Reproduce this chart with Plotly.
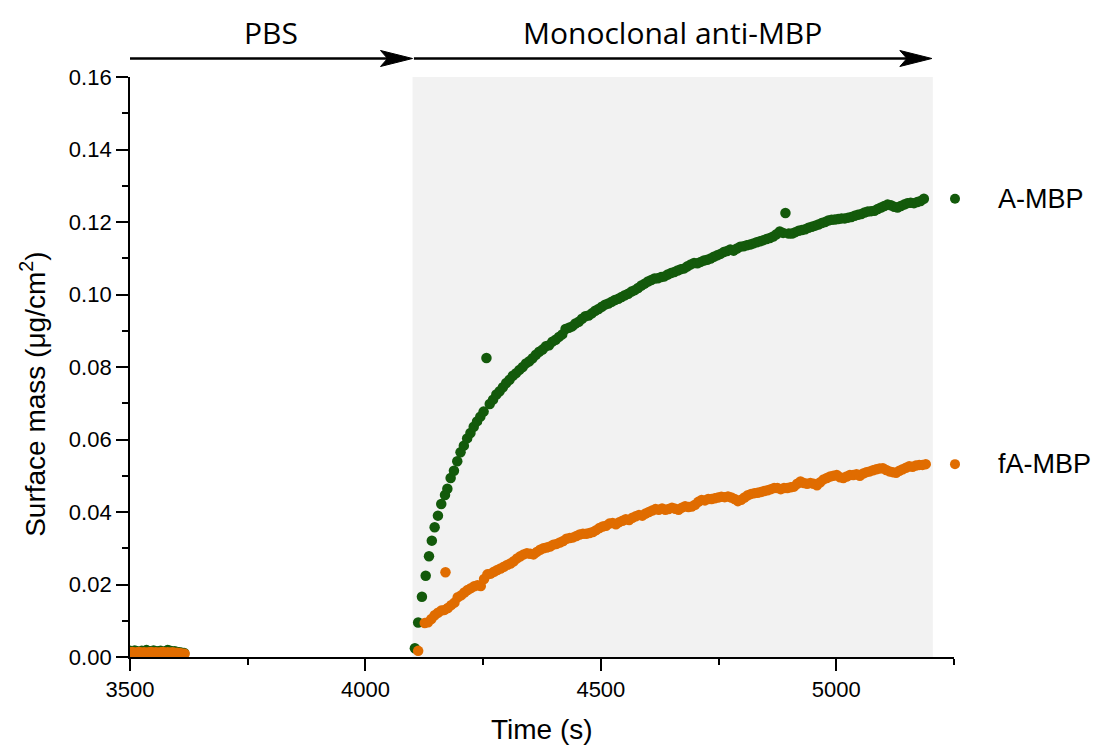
import plotly.graph_objects as go

# ---------------- data ----------------
# A-MBP (green)
a_time = [3500, 3505, 3510, 3515, 3520, 3525, 3530, 3535, 3540, 3545, 3550, 3555,
          3560, 3565, 3570, 3575, 3580, 3585, 3590, 3595, 3600, 3605, 3610, 3615,
          4105, 4112, 4120, 4128, 4135, 4141, 4147, 4154, 4161, 4169, 4174, 4181,
          4188, 4195, 4202, 4209, 4216, 4223, 4230, 4237, 4244, 4251, 4257, 4264,
          4271, 4278, 4285, 4292, 4299, 4306, 4313, 4320, 4327, 4334, 4341, 4348,
          4355, 4362, 4369, 4376, 4383, 4390, 4397, 4404, 4411, 4418, 4425, 4432,
          4439, 4446, 4453, 4460, 4467, 4474, 4481, 4488, 4495, 4502, 4509, 4516,
          4523, 4530, 4537, 4544, 4551, 4558, 4565, 4572, 4579, 4586, 4593, 4600,
          4607, 4614, 4621, 4628, 4635, 4642, 4649, 4656, 4663, 4670, 4677, 4684,
          4691, 4698, 4705, 4712, 4719, 4726, 4733, 4740, 4747, 4754, 4761, 4768,
          4775, 4782, 4789, 4796, 4803, 4810, 4817, 4824, 4831, 4838, 4845, 4852,
          4859, 4866, 4873, 4880, 4887, 4892, 4899, 4906, 4913, 4920, 4927, 4934,
          4941, 4948, 4955, 4962, 4969, 4976, 4983, 4990, 4997, 5004, 5011, 5018,
          5025, 5032, 5039, 5046, 5053, 5060, 5067, 5074, 5081, 5088, 5095, 5102,
          5109, 5116, 5123, 5130, 5137, 5144, 5151, 5158, 5165, 5172, 5179, 5186]
a_mass = [0.0017, 0.0015, 0.0018, 0.0016, 0.0014, 0.0017, 0.0016, 0.0019, 0.0015, 0.0016, 0.0018, 0.0015,
          0.0016, 0.0017, 0.0014, 0.0016, 0.0019, 0.0017, 0.0015, 0.0016, 0.0014, 0.0013, 0.0012, 0.0011,
          0.0024, 0.0095, 0.0166, 0.0224, 0.0278, 0.0321, 0.0358, 0.0390, 0.0422, 0.0447, 0.0464, 0.0494,
          0.0514, 0.0540, 0.0565, 0.0583, 0.0603, 0.0618, 0.0635, 0.0650, 0.0663, 0.0677, 0.0825, 0.0698,
          0.0710, 0.0724, 0.0733, 0.0744, 0.0756, 0.0765, 0.0776, 0.0783, 0.0792, 0.0800, 0.0810, 0.0816,
          0.0824, 0.0834, 0.0842, 0.0848, 0.0857, 0.0860, 0.0870, 0.0875, 0.0883, 0.0890, 0.0905, 0.0908,
          0.0912, 0.0920, 0.0925, 0.0933, 0.0940, 0.0942, 0.0948, 0.0955, 0.0960, 0.0966, 0.0972, 0.0975,
          0.0980, 0.0985, 0.0988, 0.0993, 0.0998, 0.1002, 0.1008, 0.1012, 0.1018, 0.1025, 0.1030, 0.1036,
          0.1040, 0.1044, 0.1045, 0.1048, 0.1050, 0.1055, 0.1059, 0.1062, 0.1066, 0.1070, 0.1072, 0.1078,
          0.1083, 0.1087, 0.1086, 0.1090, 0.1094, 0.1096, 0.1099, 0.1104, 0.1108, 0.1112, 0.1117, 0.1120,
          0.1124, 0.1121, 0.1127, 0.1132, 0.1133, 0.1136, 0.1138, 0.1141, 0.1144, 0.1147, 0.1150, 0.1153,
          0.1156, 0.1160, 0.1166, 0.1174, 0.1170, 0.1225, 0.1168, 0.1168, 0.1172, 0.1176, 0.1178, 0.1180,
          0.1184, 0.1187, 0.1190, 0.1193, 0.1197, 0.1200, 0.1204, 0.1206, 0.1207, 0.1208, 0.1210, 0.1210,
          0.1212, 0.1214, 0.1217, 0.1220, 0.1222, 0.1226, 0.1229, 0.1230, 0.1231, 0.1236, 0.1240, 0.1244,
          0.1248, 0.1246, 0.1242, 0.1240, 0.1244, 0.1248, 0.1252, 0.1253, 0.1252, 0.1255, 0.1258, 0.1264]

# fA-MBP (orange)
f_time = [3500, 3505, 3510, 3515, 3520, 3525, 3530, 3535, 3540, 3545, 3550, 3555,
          3560, 3565, 3570, 3575, 3580, 3585, 3590, 3595, 3600, 3605, 3610, 3616,
          4112, 4126, 4133, 4140, 4147, 4154, 4161, 4168, 4170, 4175, 4182, 4189,
          4196, 4203, 4210, 4217, 4224, 4231, 4238, 4245, 4252, 4259, 4266, 4273,
          4280, 4287, 4294, 4301, 4308, 4315, 4322, 4329, 4336, 4343, 4350, 4357,
          4364, 4371, 4378, 4385, 4392, 4399, 4406, 4413, 4420, 4427, 4434, 4441,
          4448, 4455, 4462, 4469, 4476, 4483, 4490, 4497, 4504, 4511, 4518, 4525,
          4532, 4539, 4546, 4553, 4560, 4567, 4574, 4581, 4588, 4595, 4602, 4609,
          4616, 4623, 4630, 4637, 4644, 4651, 4658, 4665, 4672, 4679, 4686, 4693,
          4700, 4707, 4714, 4721, 4728, 4735, 4742, 4749, 4756, 4763, 4770, 4777,
          4784, 4791, 4798, 4805, 4812, 4819, 4826, 4833, 4840, 4847, 4854, 4861,
          4868, 4875, 4882, 4889, 4896, 4903, 4910, 4917, 4924, 4931, 4938, 4945,
          4952, 4959, 4966, 4973, 4980, 4987, 4994, 5001, 5008, 5015, 5022, 5029,
          5036, 5043, 5050, 5057, 5064, 5071, 5078, 5085, 5092, 5099, 5106, 5113,
          5120, 5127, 5134, 5141, 5148, 5155, 5162, 5169, 5176, 5183, 5190]
f_mass = [0.0013, 0.0014, 0.0012, 0.0013, 0.0014, 0.0012, 0.0013, 0.0012, 0.0013, 0.0014, 0.0012, 0.0013,
          0.0012, 0.0013, 0.0014, 0.0012, 0.0013, 0.0012, 0.0013, 0.0012, 0.0012, 0.0011, 0.0010, 0.0009,
          0.0017, 0.0094, 0.0096, 0.0105, 0.0115, 0.0122, 0.0128, 0.0130, 0.0234, 0.0135, 0.0143, 0.0150,
          0.0165, 0.0170, 0.0178, 0.0185, 0.0190, 0.0195, 0.0198, 0.0196, 0.0215, 0.0228, 0.0230, 0.0235,
          0.0240, 0.0244, 0.0249, 0.0254, 0.0258, 0.0264, 0.0272, 0.0278, 0.0283, 0.0286, 0.0285, 0.0283,
          0.0290, 0.0296, 0.0300, 0.0302, 0.0305, 0.0310, 0.0312, 0.0316, 0.0320, 0.0326, 0.0328, 0.0330,
          0.0334, 0.0338, 0.0340, 0.0340, 0.0342, 0.0345, 0.0350, 0.0356, 0.0360, 0.0362, 0.0368, 0.0370,
          0.0366, 0.0372, 0.0376, 0.0380, 0.0378, 0.0384, 0.0388, 0.0392, 0.0390, 0.0396, 0.0400, 0.0404,
          0.0408, 0.0406, 0.0410, 0.0406, 0.0408, 0.0412, 0.0409, 0.0406, 0.0412, 0.0416, 0.0414, 0.0415,
          0.0420, 0.0428, 0.0433, 0.0432, 0.0436, 0.0436, 0.0438, 0.0440, 0.0442, 0.0441, 0.0443, 0.0440,
          0.0436, 0.0430, 0.0434, 0.0440, 0.0446, 0.0450, 0.0452, 0.0453, 0.0455, 0.0458, 0.0460, 0.0463,
          0.0466, 0.0466, 0.0463, 0.0466, 0.0466, 0.0468, 0.0470, 0.0478, 0.0484, 0.0480, 0.0478, 0.0480,
          0.0478, 0.0474, 0.0482, 0.0490, 0.0494, 0.0498, 0.0500, 0.0502, 0.0496, 0.0494, 0.0498, 0.0502,
          0.0502, 0.0504, 0.0500, 0.0506, 0.0510, 0.0512, 0.0515, 0.0518, 0.0520, 0.0521, 0.0516, 0.0512,
          0.0510, 0.0508, 0.0514, 0.0518, 0.0522, 0.0526, 0.0525, 0.0528, 0.0530, 0.0530, 0.0532]

series_names = ["A-MBP", "fA-MBP"]
phase_labels = ["PBS", "Monoclonal anti-MBP"]
phase_bounds = [3500, 4100, 5203]
antibody_window = [4100, 5205]
x_ticks = [3500, 4000, 4500, 5000]
y_ticks = [0.00, 0.02, 0.04, 0.06, 0.08, 0.10, 0.12, 0.14, 0.16]
Y_MAX = 0.16

GREEN = "#135A0B"
ORANGE = "#E06C00"
AXIS_FONT = "Liberation Sans, Arial"

fig = go.Figure()

fig.add_trace(go.Scatter(x=a_time, y=a_mass, mode="markers", name=series_names[0],
                         marker=dict(color=GREEN, size=10.5, line=dict(width=0)),
                         showlegend=False))
fig.add_trace(go.Scatter(x=f_time, y=f_mass, mode="markers", name=series_names[1],
                         marker=dict(color=ORANGE, size=10.5, line=dict(width=0)),
                         showlegend=False))

# legend-style labels at the end of each curve (dot + name)
for name, col, ys in [(series_names[0], GREEN, a_mass), (series_names[1], ORANGE, f_mass)]:
    yp = ys[-1] / Y_MAX
    fig.add_shape(type="circle", xref="paper", yref="paper", xsizemode="pixel", ysizemode="pixel",
                  xanchor=1.0012, yanchor=yp, x0=-5, x1=5, y0=-5, y1=5,
                  fillcolor=col, line=dict(width=0))
    fig.add_annotation(x=1.051, xref="paper", y=yp, yref="paper", text=name, showarrow=False,
                       xanchor="left", yanchor="middle",
                       font=dict(family=AXIS_FONT, size=27, color="black"))

# shaded antibody window
fig.add_shape(type="rect", xref="x", yref="y", x0=antibody_window[0], x1=antibody_window[1],
              y0=0, y1=Y_MAX, fillcolor="#F2F2F2", line=dict(width=0), layer="below")

# phase arrows + labels
arrow_y = 1.0319
label_y = 1.077
for i, lab in enumerate(phase_labels):
    x0, x1 = phase_bounds[i], phase_bounds[i + 1]
    fig.add_shape(type="line", xref="x", yref="paper", x0=x0 + (3 if i else 0), x1=x1 - 14,
                  y0=arrow_y, y1=arrow_y, line=dict(color="black", width=2.6))
    fig.add_shape(type="path", xref="x", yref="paper", xsizemode="pixel", ysizemode="pixel",
                  xanchor=x1, yanchor=arrow_y,
                  path="M0,0 L-32,8 L-25,0 L-32,-8 Z",
                  fillcolor="black", line=dict(color="black", width=1))
    fig.add_annotation(x=(x0 + x1) / 2, xref="x", y=label_y, yref="paper", text=lab,
                       showarrow=False, xanchor="center", yanchor="middle",
                       font=dict(family="Open Sans", size=30, color="black"))

# axis titles
fig.add_annotation(x=-0.1177, xref="paper", y=0.452, yref="paper",
                   text="Surface mass (\u03bcg/cm<sup>2</sup>)", textangle=-90, showarrow=False,
                   xanchor="center", yanchor="middle",
                   font=dict(family=AXIS_FONT, size=28, color="black"))
fig.add_annotation(x=0.5, xref="paper", y=-0.125, yref="paper", text="Time (s)",
                   showarrow=False, xanchor="center", yanchor="middle",
                   font=dict(family=AXIS_FONT, size=28, color="black"))

axis_common = dict(showline=True, linecolor="black", linewidth=1.8, ticks="outside",
                   ticklen=12, tickwidth=1.8, tickcolor="black", showgrid=False, zeroline=False,
                   mirror=False,
                   tickfont=dict(family=AXIS_FONT, size=22, color="black"))

fig.update_xaxes(range=[3500, 5250], tickvals=x_ticks, **axis_common,
                 minor=dict(dtick=250, tick0=3500, ticks="outside", ticklen=6, tickwidth=1.8,
                            tickcolor="black", showgrid=False))
fig.update_yaxes(range=[0, Y_MAX], tickvals=y_ticks, tickformat=".2f", **axis_common,
                 minor=dict(dtick=0.01, tick0=0, ticks="outside", ticklen=6, tickwidth=1.8,
                            tickcolor="black", showgrid=False))

fig.update_layout(width=1100, height=747, margin=dict(l=130, r=146, t=77, b=90),
                  plot_bgcolor="white", paper_bgcolor="white", showlegend=False)

fig.write_html("out.html")
